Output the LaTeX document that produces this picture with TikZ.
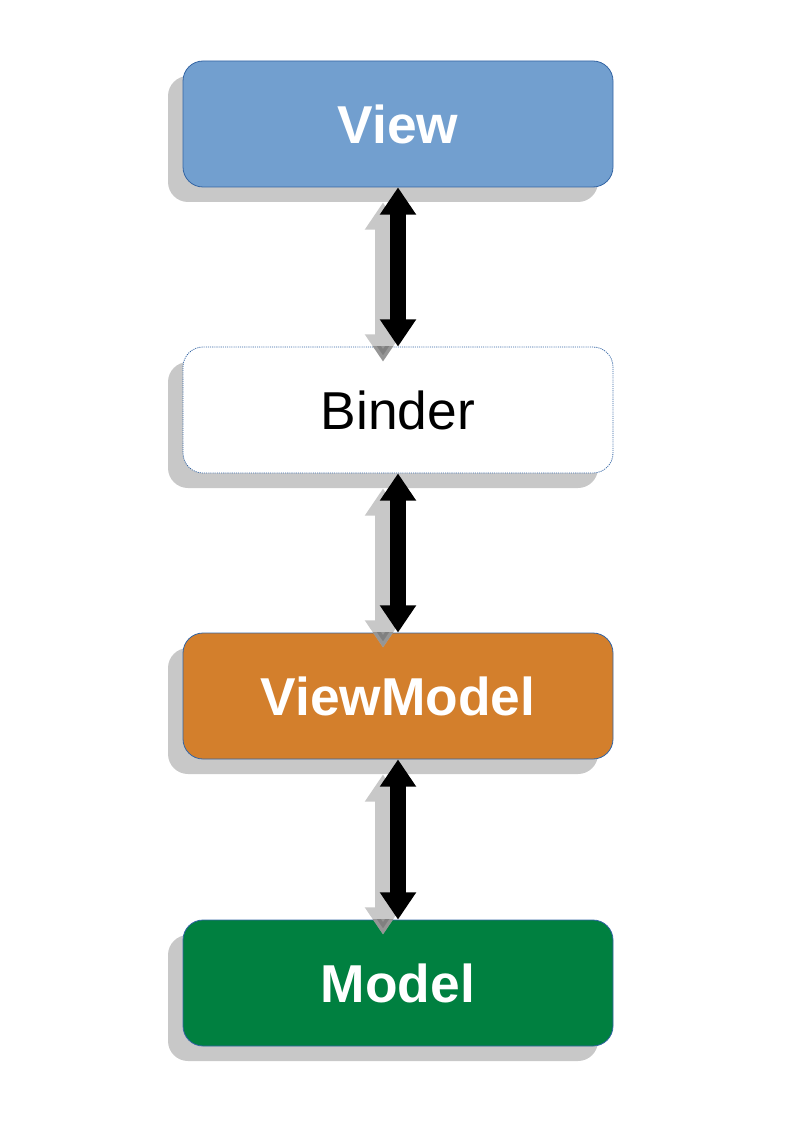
\documentclass[tikz,border=0pt]{standalone}
\usepackage{fontspec}
\setmainfont{Liberation Sans}
\usetikzlibrary{shadows,arrows.meta}
\definecolor{viewblue}{RGB}{114,159,207}
\definecolor{vmorange}{RGB}{211,127,44}
\definecolor{mgreen}{RGB}{0,128,64}
\definecolor{edgeblue}{RGB}{52,101,164}
\definecolor{shadowgray}{RGB}{200,200,200}
\definecolor{overgray}{RGB}{110,110,110}
\begin{document}
\begin{tikzpicture}[x=0.75pt,y=-0.75pt,
  box/.style={rectangle, rounded corners=15pt, minimum width=322.5pt,
    minimum height=94.5pt, inner sep=0pt, draw=edgeblue, line width=0.6pt,
    font=\fontsize{40}{46}\selectfont\bfseries, text=white,
    drop shadow={shadow xshift=-11.25pt,shadow yshift=-11.25pt,fill=shadowgray,opacity=1}},
  binderbox/.style={box, fill=white, dash pattern=on 0.8pt off 0.8pt,
    font=\fontsize{40}{46}\selectfont, text=black},
  biarrow/.style={line width=12pt,
    {Triangle[width=26pt,length=20.5pt]}-{Triangle[width=26pt,length=20.5pt]}},
  shadowarrow/.style={biarrow, draw=shadowgray},
  overarrow/.style={biarrow, draw=overgray, opacity=0.55},
  sh/.style={shift={(-11.25pt,-11.25pt)}}
]
\useasboundingbox (0,0) rectangle (794,1123);
\node[box, fill=viewblue] (view) at (398,124) {View};
\node[binderbox] (binder) at (398,410) {Binder};
\node[box, fill=vmorange] (vm) at (398,696) {ViewModel};
\node[box, fill=mgreen] (model) at (398,983) {Model};
% shadow arrows
\draw[shadowarrow] ([sh]view.south) -- ([sh]binder.north);
\draw[shadowarrow] ([sh]binder.south) -- ([sh]vm.north);
\draw[shadowarrow] ([sh]vm.south) -- ([sh]model.north);
\begin{scope}
  \clip (binder.south west) rectangle (binder.north east);
  \draw[overarrow] ([sh]view.south) -- ([sh]binder.north);
\end{scope}
\begin{scope}
  \clip (vm.south west) rectangle (vm.north east);
  \draw[overarrow] ([sh]binder.south) -- ([sh]vm.north);
\end{scope}
\begin{scope}
  \clip (model.south west) rectangle (model.north east);
  \draw[overarrow] ([sh]vm.south) -- ([sh]model.north);
\end{scope}
% black arrows
\draw[biarrow] (view.south) -- (binder.north);
\draw[biarrow] (binder.south) -- (vm.north);
\draw[biarrow] (vm.south) -- (model.north);
\end{tikzpicture}
\end{document}
